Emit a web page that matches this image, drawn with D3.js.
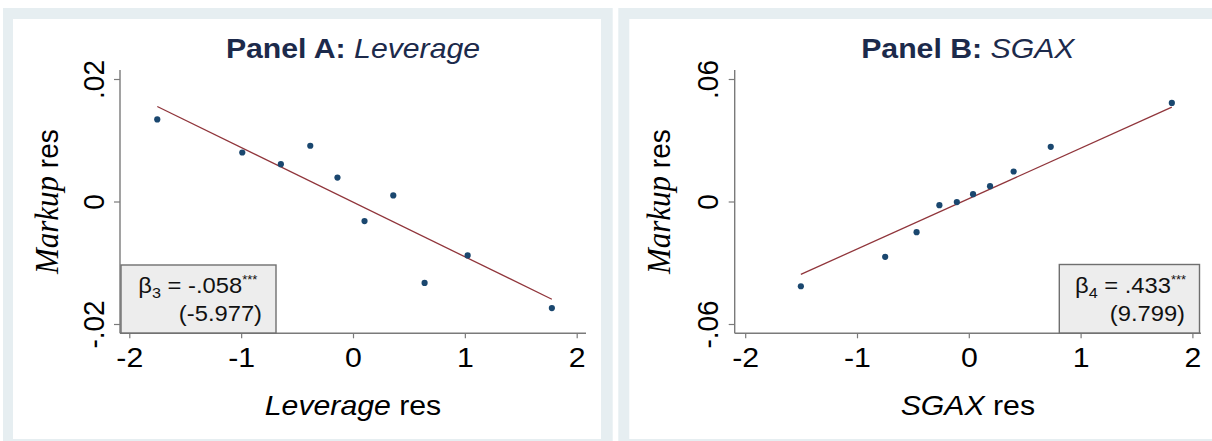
<!DOCTYPE html>
<html>
<head>
<meta charset="utf-8">
<script src="https://cdn.jsdelivr.net/npm/d3@7"></script>
<style>
  html, body { margin: 0; padding: 0; background: #ffffff; }
  svg { display: block; }
  text { font-family: "Liberation Sans", Arial, Helvetica, sans-serif; }
</style>
</head>
<body>
<svg id="chart" width="1212" height="441"></svg>
<script>
// Binned residual scatter: markup residuals against leverage and SGA residuals
const leverageRes = [-1.75, -0.99, -0.645, -0.382, -0.139, 0.103, 0.36, 0.64, 1.025, 1.778];
const markupResA  = [0.0134, 0.0080, 0.0061, 0.0091, 0.0039, -0.0032, 0.0010, -0.0133, -0.0088, -0.0174];

const sgaxRes    = [-1.502, -0.748, -0.467, -0.263, -0.107, 0.038, 0.19, 0.401, 0.733, 1.816];
const markupResB = [-0.0415, -0.0271, -0.0150, -0.0018, -0.0003, 0.0036, 0.0075, 0.0147, 0.0268, 0.0483];

// fitted line coefficients (panel A, panel B)
const fitSlope     = [-0.00892, 0.0247];
const fitIntercept = [-0.0001, 0.0014];

const xTicks       = [-2, -1, 0, 1, 2];
const yTicksA      = [-0.02, 0, 0.02];
const yTickLabelsA = ["-.02", "0", ".02"];
const yTicksB      = [-0.06, 0, 0.06];
const yTickLabelsB = ["-.06", "0", ".06"];

const panelTitles  = ["Panel A: ", "Panel B: "];
const panelVars    = ["Leverage", "SGAX"];
const betaSubs     = ["3", "4"];
const betaValues   = ["-.058", ".433"];
const tStats       = ["(-5.977)", "(9.799)"];

const SX = 1.08;               // horizontal text stretch
const FRAME = "#e6eef1";
const NAVY = "#1a476f";
const MAROON = "#90353b";
const AXIS = "#7a7a7a";
const TITLE = "#1c2a4b";

const svg = d3.select("#chart");

const panels = [
  {
    frame: [3, 8, 612.7, 441], inner: [13, 19, 601, 439],
    plot: {left: 120, right: 586, top: 70, bottom: 333.3},
    xRange: [129.3, 576.7], yDomain: [-0.02, 0.02],
    yTicks: yTicksA, yLabels: yTickLabelsA,
    xs: leverageRes, ys: markupResA,
    box: {x0: 121, y0: 265, x1: 276, y1: 333, tx: 138.3, tx2: 262, side: "left"},
    yTitleX: 58
  },
  {
    frame: [618.3, 8, 1212, 441], inner: [629.3, 19, 1212, 439],
    plot: {left: 734.7, right: 1201, top: 70, bottom: 333.3},
    xRange: [745.2, 1192.4], yDomain: [-0.06, 0.06],
    yTicks: yTicksB, yLabels: yTickLabelsB,
    xs: sgaxRes, ys: markupResB,
    box: {x0: 1059.3, y0: 264.5, x1: 1199.5, y1: 333, tx: 1075, tx2: 1185, side: "right"},
    yTitleX: 670
  }
];

function hText(g, x, y, anchor, size) {
  return g.append("text")
    .attr("transform", `translate(${x},${y}) scale(${SX},1)`)
    .attr("text-anchor", anchor)
    .attr("font-size", size);
}

panels.forEach((p, i) => {
  const [fx0, fy0, fx1, fy1] = p.frame;
  const [ix0, iy0, ix1, iy1] = p.inner;
  svg.append("rect").attr("x", fx0).attr("y", fy0)
    .attr("width", fx1 - fx0).attr("height", fy1 - fy0).attr("fill", FRAME);
  svg.append("rect").attr("x", ix0).attr("y", iy0)
    .attr("width", ix1 - ix0).attr("height", iy1 - iy0).attr("fill", "#ffffff");

  const g = svg.append("g");
  const pl = p.plot;
  const x = d3.scaleLinear().domain([-2, 2]).range(p.xRange);
  const y = d3.scaleLinear().domain(p.yDomain).range([324, 79]);
  const cx = (pl.left + pl.right) / 2;

  // axis lines spanning the plot region
  g.append("line").attr("x1", pl.left).attr("x2", pl.right)
    .attr("y1", pl.bottom).attr("y2", pl.bottom)
    .attr("stroke", AXIS).attr("stroke-width", 1.4);
  g.append("line").attr("x1", pl.left).attr("x2", pl.left)
    .attr("y1", pl.top).attr("y2", pl.bottom)
    .attr("stroke", AXIS).attr("stroke-width", 1.4);

  // x axis ticks and labels
  const xa = g.append("g").attr("transform", `translate(0,${pl.bottom})`)
    .call(d3.axisBottom(x).tickValues(xTicks).tickSizeInner(5).tickSizeOuter(0)
      .tickFormat(d3.format("d")));
  xa.select(".domain").remove();
  xa.selectAll(".tick line").attr("stroke", AXIS).attr("stroke-width", 1.2);
  xa.selectAll(".tick text")
    .attr("y", null).attr("dy", null)
    .attr("transform", `translate(0,33.4) scale(${SX},1)`)
    .attr("font-size", 28).attr("fill", "#000")
    .text(d => d < 0 ? "-" + Math.abs(d) : String(d));

  // y axis ticks and rotated labels
  const ya = g.append("g").attr("transform", `translate(${pl.left},0)`)
    .call(d3.axisLeft(y).tickValues(p.yTicks).tickSizeInner(6).tickSizeOuter(0)
      .tickFormat((d, k) => p.yLabels[k]));
  ya.select(".domain").remove();
  ya.selectAll(".tick line").attr("stroke", AXIS).attr("stroke-width", 1.2);
  ya.selectAll(".tick text")
    .attr("x", null).attr("dy", null)
    .attr("transform", `translate(-16.5,0) rotate(-90) scale(1,${SX})`)
    .attr("text-anchor", "middle")
    .attr("font-size", 28).attr("fill", "#000");

  // fitted line over the range of the bins
  const x0 = d3.min(p.xs), x1 = d3.max(p.xs);
  const fit = [x0, x1].map(v => [v, fitIntercept[i] + fitSlope[i] * v]);
  g.append("path").datum(fit)
    .attr("d", d3.line().x(d => x(d[0])).y(d => y(d[1])))
    .attr("fill", "none").attr("stroke", MAROON).attr("stroke-width", 1.3);

  // binned points
  g.selectAll("circle.pt").data(d3.zip(p.xs, p.ys)).join("circle")
    .attr("class", "pt")
    .attr("cx", d => x(d[0])).attr("cy", d => y(d[1]))
    .attr("r", 3.1).attr("fill", NAVY);

  // coefficient box
  const b = p.box;
  g.append("rect").attr("x", b.x0).attr("y", b.y0)
    .attr("width", b.x1 - b.x0).attr("height", b.y1 - b.y0)
    .attr("fill", "#ededed").attr("stroke", "#6f6f6f").attr("stroke-width", 1.4);
  const t1 = hText(g, b.tx, 293, "start", 22).attr("fill", "#111");
  t1.append("tspan").text("β");
  t1.append("tspan").attr("font-size", 15).attr("dy", 5).text(betaSubs[i]);
  t1.append("tspan").attr("dy", -5).text(" = " + betaValues[i]);
  t1.append("tspan").attr("font-size", 12).attr("dy", -9).text("***");
  hText(g, b.tx2, 321, "end", 22).attr("fill", "#111").text(tStats[i]);

  // panel title
  const tt = hText(g, cx, 58.3, "middle", 28).attr("fill", TITLE);
  tt.append("tspan").attr("font-weight", "bold").text(panelTitles[i]);
  tt.append("tspan").attr("font-style", "italic").text(panelVars[i]);

  // x axis title
  const xt = hText(g, cx, 415, "middle", 28).attr("fill", "#000");
  xt.append("tspan").attr("font-style", "italic").text(panelVars[i]);
  xt.append("tspan").text(" res");

  // y axis title
  const yt = g.append("text")
    .attr("transform", `translate(${p.yTitleX},${(pl.top + pl.bottom) / 2}) rotate(-90) scale(1,${SX})`)
    .attr("text-anchor", "middle").attr("font-size", 28).attr("fill", "#000");
  yt.append("tspan").attr("font-style", "italic")
    .attr("font-family", "'Liberation Serif', 'Times New Roman', serif")
    .attr("font-size", 31).text("Markup");
  yt.append("tspan").text(" res");
});
</script>
</body>
</html>
